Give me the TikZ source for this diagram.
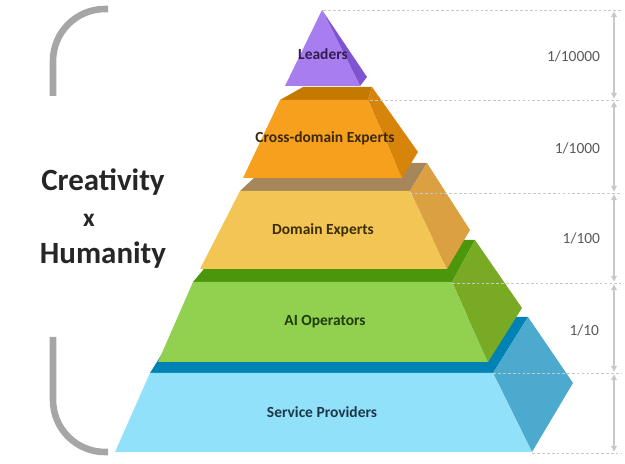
\documentclass[tikz,border=0pt]{standalone}
\usepackage{fontspec}
\setmainfont{Carlito}
\usetikzlibrary{arrows.meta}

\definecolor{purplefront}{RGB}{167,125,240}
\definecolor{purpleside}{RGB}{128,84,208}
\definecolor{orangefront}{RGB}{247,160,30}
\definecolor{orangetop}{RGB}{196,122,0}
\definecolor{orangeside}{RGB}{215,132,10}
\definecolor{yellowfront}{RGB}{242,197,85}
\definecolor{yellowtop}{RGB}{165,135,90}
\definecolor{yellowside}{RGB}{218,160,65}
\definecolor{greenfront}{RGB}{146,208,80}
\definecolor{greentop}{RGB}{75,150,10}
\definecolor{greenside}{RGB}{120,170,35}
\definecolor{bluefront}{RGB}{146,225,250}
\definecolor{bluetop}{RGB}{0,130,180}
\definecolor{blueside}{RGB}{75,170,205}
\definecolor{textdark}{RGB}{38,38,38}
\definecolor{ratiogray}{RGB}{89,89,89}
\definecolor{guidegray}{RGB}{200,200,200}
\definecolor{bracketgray}{RGB}{166,166,166}

\begin{document}
\begin{tikzpicture}[
  x=0.025cm, y=-0.025cm,
  lvl/.style={font=\fontsize{11}{13}\selectfont\bfseries},
  ratio/.style={anchor=east, font=\fontsize{11}{13}\selectfont, text=ratiogray},
  big/.style={font=\fontsize{22}{26}\selectfont\bfseries, text=textdark},
  guide/.style={draw=guidegray, line width=0.5pt, dash pattern=on 2pt off 1.5pt},
  dim/.style={{Triangle[length=4pt,width=4pt]}-{Triangle[length=4pt,width=4pt]},
    draw=guidegray, line width=0.8pt, shorten <=1pt, shorten >=1pt},
  bracket/.style={draw=bracketgray, line width=4.7pt, rounded corners=1.3cm}
]
\useasboundingbox (0,0) rectangle (625,464);

% bottom layer
\fill[bluetop] (150,373) -- (493,373) -- (528,317) -- (185,317) -- cycle;
\fill[blueside] (493,373) -- (528,317) -- (573,383) -- (532,452) -- cycle;
\fill[bluefront] (150,373) -- (493,373) -- (532,452) -- (115,452) -- cycle;

% second layer
\fill[greentop] (193,282) -- (452,282) -- (475,240) -- (228,240) -- cycle;
\fill[greenside] (452,282) -- (475,240) -- (522,308) -- (488,362) -- cycle;
\fill[greenfront] (193,282) -- (452,282) -- (488,362) -- (158,362) -- cycle;

% third layer
\fill[yellowtop] (240,191) -- (410,191) -- (427,163) -- (270,163) -- cycle;
\fill[yellowside] (410,191) -- (427,163) -- (470,230) -- (447,269) -- cycle;
\fill[yellowfront] (240,191) -- (410,191) -- (447,269) -- (200,269) -- cycle;

% fourth layer
\fill[orangetop] (280,100) -- (368,100) -- (372,87) -- (303,87) -- cycle;
\fill[orangeside] (368,100) -- (372,87) -- (418,152) -- (402,178) -- cycle;
\fill[orangefront] (280,100) -- (368,100) -- (402,178) -- (243,178) -- cycle;

% top
\fill[purpleside] (322,10) -- (367,77) -- (360,86) -- cycle;
\fill[purplefront] (322,10) -- (360,86) -- (285,86) -- cycle;

% layer labels
\node[lvl, text={rgb,255:red,50;green,30;blue,80}] (leaders) at (323,54) {Leaders};
\node[lvl, text={rgb,255:red,60;green,40;blue,10}] (crossdom) at (325,138) {Cross-domain Experts};
\node[lvl, text={rgb,255:red,60;green,45;blue,5}] (domain) at (323,230) {Domain Experts};
\node[lvl, text={rgb,255:red,30;green,60;blue,12}] (aiops) at (325,322) {AI Operators};
\node[lvl, text={rgb,255:red,28;green,56;blue,72}] (service) at (322,412) {Service Providers};

% guide lines and scale on the right
\foreach \i/\y/\xs in {0/10/323, 1/100/370, 2/193/410, 3/283/452, 4/373/493, 5/453/532} {
  \coordinate (g\i) at (\xs,\y);
  \coordinate (h\i) at (621,\y);
  \coordinate (a\i) at (614,\y);
  \draw[guide] (g\i) -- (h\i);
}
\foreach \i/\j in {0/1, 1/2, 2/3, 3/4, 4/5}
  \draw[dim] (a\i) -- (a\j);

\node[ratio] (r4) at (605,56) {1/10000};
\node[ratio] (r3) at (605,148) {1/1000};
\node[ratio] (r2) at (605,238) {1/100};
\node[ratio] (r1) at (604,330) {1/10};

% left side
\draw[bracket] (108,9) -- (53,9) -- (53,96);
\draw[bracket] (53,337) -- (53,452) -- (108,452);
\node[big] (creativity) at (103,182) {Creativity};
\node[big, font=\fontsize{18}{20}\selectfont\bfseries] (times) at (89,220) {x};
\node[big] (humanity) at (103,255) {Humanity};

\end{tikzpicture}
\end{document}
